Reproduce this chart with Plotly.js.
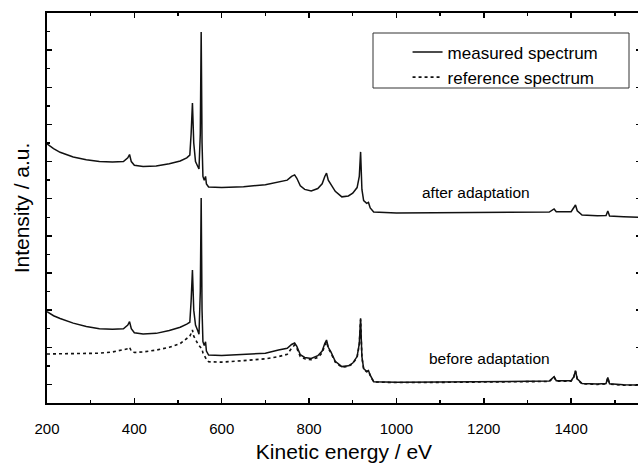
<!DOCTYPE html>
<html>
<head>
<meta charset="utf-8">
<script src="https://cdn.plot.ly/plotly-3.0.1.min.js"></script>
<style>
html,body{margin:0;padding:0;overflow:hidden;background:#fff;}
#chart{width:645px;height:469px;}
</style>
</head>
<body>
<div id="chart"></div>
<script>
// Kinetic energy (eV)
const energy = [200,215,230,260,290,320,350,375,385,389,393,400,420,450,480,505,520,527,530,533,536,540,545,548,551,553,555,557,560,563,565,570,600,650,700,730,750,760,767,772,780,790,805,820,830,836,840,844,850,860,875,890,900,910,915,918,921,925,932,936,940,948,1000,1100,1200,1300,1350,1361,1366,1400,1406,1410,1414,1425,1460,1480,1484,1488,1520,1560];

// after adaptation: measured spectrum (offset upwards, a.u.)
const afterMeasured = [13.95,13.7,13.5,13.25,13.1,13.0,12.98,13.0,13.2,13.38,13.0,12.8,12.74,12.76,12.88,13.03,13.2,13.35,14.5,16.15,14.0,13.0,12.75,12.6,14.5,19.98,14.0,12.2,12.0,12.2,11.8,11.63,11.6,11.65,11.75,11.9,12.0,12.2,12.28,12.1,11.7,11.5,11.42,11.55,11.8,12.2,12.38,12.0,11.8,11.4,11.1,11.15,11.3,11.6,12.2,13.52,11.5,10.9,10.75,10.8,10.5,10.28,10.23,10.24,10.25,10.27,10.28,10.45,10.3,10.3,10.5,10.66,10.35,10.12,10.08,10.1,10.34,10.07,10.03,10.0];

// before adaptation: measured spectrum (a.u.)
const beforeMeasured = [4.92,4.7,4.55,4.3,4.12,4.0,3.97,4.0,4.2,4.38,4.0,3.78,3.72,3.75,3.9,4.08,4.25,4.35,5.5,7.16,5.0,4.2,3.9,3.7,6.0,11.04,5.0,3.3,3.1,3.3,2.8,2.58,2.56,2.6,2.68,2.85,2.95,3.15,3.23,3.05,2.6,2.45,2.4,2.55,2.8,3.2,3.39,3.0,2.75,2.25,1.96,2.0,2.15,2.5,3.2,4.56,2.5,1.85,1.7,1.75,1.5,1.15,1.12,1.13,1.15,1.17,1.18,1.42,1.2,1.2,1.4,1.74,1.3,1.05,1.02,1.05,1.38,1.03,0.98,0.97];

// before adaptation: reference spectrum (a.u.)
const beforeReference = [2.64,2.64,2.64,2.64,2.66,2.68,2.75,2.85,2.92,3.0,2.8,2.72,2.75,2.85,3.0,3.2,3.45,3.6,3.75,3.93,3.6,3.4,3.2,3.1,3.0,2.95,2.9,2.7,2.55,2.45,2.35,2.22,2.2,2.28,2.38,2.5,2.62,2.95,3.12,2.95,2.5,2.38,2.33,2.45,2.7,3.1,3.3,2.95,2.7,2.2,1.93,1.97,2.12,2.45,3.15,4.5,2.45,1.82,1.68,1.72,1.48,1.13,1.1,1.11,1.13,1.15,1.16,1.4,1.18,1.18,1.38,1.72,1.28,1.03,1.0,1.03,1.36,1.01,0.96,0.95];

const seriesNames = ["measured spectrum", "reference spectrum"];
const panelLabels = [
  {text: "after adaptation", x: 1183, y: 11.36},
  {text: "before adaptation", x: 1213, y: 2.37}
];

const FONT = "Liberation Sans, Arial, Helvetica, sans-serif";

const traces = [
  {x: energy, y: beforeMeasured, type: "scatter", mode: "lines", name: seriesNames[0],
   line: {color: "#111", width: 1.5}, showlegend: true, legendgroup: "m"},
  {x: energy, y: beforeReference, type: "scatter", mode: "lines", name: seriesNames[1],
   line: {color: "#111", width: 1.6, dash: "dot"}, showlegend: true, legendgroup: "r"},
  {x: energy, y: afterMeasured, type: "scatter", mode: "lines", name: seriesNames[0],
   line: {color: "#111", width: 1.5}, showlegend: false, legendgroup: "m"}
];

const layout = {
  width: 645, height: 469,
  margin: {l: 47, r: 4, t: 13, b: 66},
  paper_bgcolor: "#fff", plot_bgcolor: "#fff",
  font: {family: FONT, color: "#000", size: 15},
  showlegend: true,
  legend: {
    x: 0.607, y: 0.945, xanchor: "left", yanchor: "top",
    bgcolor: "rgba(0,0,0,0)", borderwidth: 0,
    font: {family: FONT, size: 17, color: "#000"},
    traceorder: "normal", tracegroupgap: 0, itemwidth: 30
  },
  shapes: [
    {type: "rect", xref: "paper", yref: "paper",
     x0: (373-47)/594, x1: (629-47)/594, y0: (403-88)/390, y1: (403-33)/390,
     line: {color: "#333", width: 1}, fillcolor: "rgba(0,0,0,0)"}
  ],
  xaxis: {
    range: [200, 1560],
    tick0: 200, dtick: 200,
    ticks: "inside", ticklen: 5, tickwidth: 1.5, tickcolor: "#000",
    ticklabelstandoff: 11,
    minor: {dtick: 100, ticks: "inside", ticklen: 3, tickwidth: 1.5, tickcolor: "#000", showgrid: false},
    showline: true, linewidth: 2, linecolor: "#000", mirror: "ticks",
    showgrid: false, zeroline: false,
    tickfont: {family: FONT, size: 15, color: "#000"},
    title: {text: "Kinetic energy / eV", font: {family: FONT, size: 21, color: "#000"}, standoff: 8}
  },
  yaxis: {
    range: [0, 21],
    tick0: 1, dtick: 2,
    ticks: "inside", ticklen: 5, tickwidth: 1.5, tickcolor: "#000",
    minor: {dtick: 1, ticks: "inside", ticklen: 3, tickwidth: 1.5, tickcolor: "#000", showgrid: false},
    showticklabels: false,
    showline: true, linewidth: 2, linecolor: "#000", mirror: "ticks",
    showgrid: false, zeroline: false,
    title: {text: "Intensity / a.u.", font: {family: FONT, size: 21, color: "#000"}, standoff: 10}
  },
  annotations: panelLabels.map(p => ({
    text: p.text, x: p.x, y: p.y, xref: "x", yref: "y",
    showarrow: false, font: {family: FONT, size: 15.5, color: "#000"},
    xanchor: "center", yanchor: "middle"
  }))
};

Plotly.newPlot("chart", traces, layout, {displayModeBar: false, staticPlot: true});
</script>
</body>
</html>
